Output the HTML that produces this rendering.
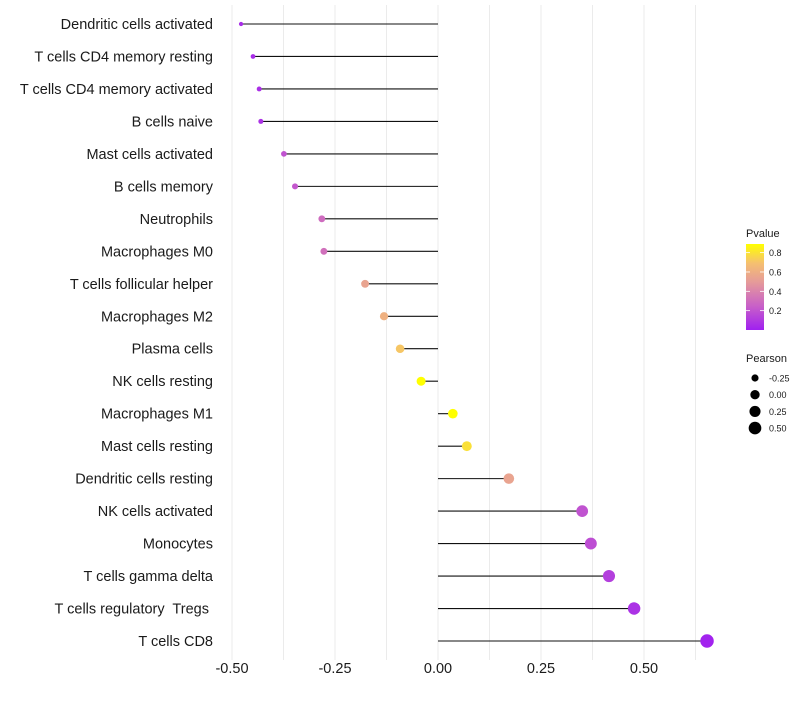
<!DOCTYPE html>
<html><head><meta charset="utf-8"><style>
body{margin:0;background:#fff;font-family:"Liberation Sans",sans-serif}
text{white-space:pre}
</style></head><body>
<svg id="chart" width="800" height="700" xmlns="http://www.w3.org/2000/svg"></svg>
<script>
const categories=["Dendritic cells activated","T cells CD4 memory resting","T cells CD4 memory activated","B cells naive","Mast cells activated","B cells memory","Neutrophils","Macrophages M0","T cells follicular helper","Macrophages M2","Plasma cells","NK cells resting","Macrophages M1","Mast cells resting","Dendritic cells resting","NK cells activated","Monocytes","T cells gamma delta","T cells regulatory  Tregs ","T cells CD8"];
const pearson=[-0.478,-0.449,-0.434,-0.430,-0.374,-0.347,-0.282,-0.277,-0.177,-0.131,-0.092,-0.041,0.036,0.070,0.172,0.350,0.371,0.415,0.476,0.653];
const pvalues=[0.05,0.05,0.06,0.07,0.2,0.22,0.3,0.32,0.55,0.62,0.72,0.9,0.9,0.8,0.55,0.2,0.18,0.12,0.07,0.01];
const xTicks=[-0.5,-0.25,0,0.25,0.5];
const xTickLabels=["-0.50","-0.25","0.00","0.25","0.50"];
const pTicks=[0.2,0.4,0.6,0.8];
const sizeTicks=[-0.25,0,0.25,0.5];
const sizeTickLabels=["-0.25","0.00","0.25","0.50"];

const NS="http://www.w3.org/2000/svg";
const svg=document.getElementById('chart');
const x=v=>438+v*412;
const y=i=>24+i*(617/19);
const r=v=>Math.sqrt(Math.max(1.5,4.5+36*(v+0.48)));
const stops=[[0,[160,32,240]],[0.25,[200,96,200]],[0.5,[229,154,154]],[0.7,[245,192,112]],[0.9,[255,255,0]]];
function col(p){
  p=Math.min(0.9,Math.max(0,p));
  for(let k=1;k<stops.length;k++){if(p<=stops[k][0]){const a=stops[k-1],b=stops[k];const t=(p-a[0])/(b[0]-a[0]);
    return 'rgb('+a[1].map((c,j)=>Math.round(c+(b[1][j]-c)*t)).join(',')+')';}}
  return 'rgb(255,255,0)';
}
function mk(tag,attrs,parent){const e=document.createElementNS(NS,tag);for(const k in attrs)e.setAttribute(k,attrs[k]);(parent||svg).appendChild(e);return e;}
for(let g=-0.5;g<=0.626;g+=0.125){
  const l=mk('line',{x1:x(g),x2:x(g),y1:5,y2:660,stroke:'#ebebeb','stroke-width':1});
  
  
}
categories.forEach((c,i)=>{
  const t=mk('text',{x:213,y:y(i)+5,'text-anchor':'end','font-size':14.5,fill:'#1a1a1a'});
  t.textContent=c;
  
  
  const s=mk('line',{x1:x(0),x2:x(pearson[i]),y1:y(i),y2:y(i),stroke:'#111','stroke-width':1.1});
  
  
  const d=mk('circle',{cx:x(pearson[i]),cy:y(i),r:r(pearson[i]),fill:col(pvalues[i])});
  
  
});
xTicks.forEach((v,i)=>{
  const t=mk('text',{x:x(v),y:673,'text-anchor':'middle','font-size':14.5,fill:'#1a1a1a'});
  t.textContent=xTickLabels[i];
  
  
});
const lt=mk('text',{x:746,y:237,'font-size':11,fill:'#1a1a1a'});lt.textContent='Pvalue';


const defs=mk('defs',{});
const lg=mk('linearGradient',{id:'pg',x1:0,y1:1,x2:0,y2:0},defs);
stops.forEach(s=>mk('stop',{offset:(s[0]/0.9),'stop-color':'rgb('+s[1].join(',')+')'},lg));
const py=p=>330-p*96.7;
const bar=mk('rect',{x:746,y:244,width:18,height:86,fill:'url(#pg)'});


pTicks.forEach(p=>{
  mk('line',{x1:746,x2:750,y1:py(p),y2:py(p),stroke:'#fff','stroke-width':0.8});
  mk('line',{x1:760,x2:764,y1:py(p),y2:py(p),stroke:'#fff','stroke-width':0.8});
  const t=mk('text',{x:769,y:py(p)+3.5,'font-size':9,fill:'#1a1a1a'});t.textContent=p.toFixed(1);
  
  
});
const st=mk('text',{x:746,y:362,'font-size':11,fill:'#1a1a1a'});st.textContent='Pearson';


sizeTicks.forEach((v,i)=>{
  const cy=378+i*16.7;
  const c=mk('circle',{cx:755,cy:cy,r:r(v),fill:'#000'});
  
  
  const t=mk('text',{x:769,y:cy+3.5,'font-size':9,fill:'#1a1a1a'});t.textContent=sizeTickLabels[i];
  
  
});
</script>
</body></html>
